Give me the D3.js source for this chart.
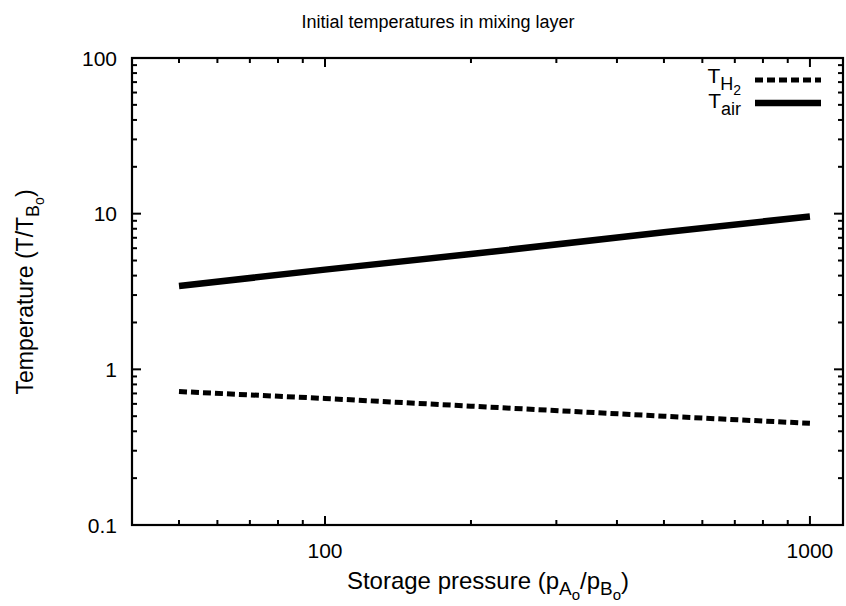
<!DOCTYPE html>
<html>
<head>
<meta charset="utf-8">
<script src="https://cdn.jsdelivr.net/npm/d3@7"></script>
<style>
  html, body { margin: 0; padding: 0; background: #fff; }
  svg { display: block; font-family: "Liberation Sans", Arial, sans-serif; }
</style>
</head>
<body>
<svg id="chart" width="846" height="606"></svg>
<script>
// ---- data ----
const pressure = [50, 100, 200, 500, 1000];
const tH2 = [0.72, 0.65, 0.58, 0.50, 0.45];
const tAir = [3.43, 4.37, 5.5, 7.6, 9.6];
const xDomain = [40, 1170];
const yDomain = [0.1, 100];
const xTickLabels = [100, 1000];
const yTickLabels = [0.1, 1, 10, 100];
const title = "Initial temperatures in mixing layer";

// ---- layout ----
const svg = d3.select("#chart");
const L = 132, R = 843, T = 58, B = 525;
const x = d3.scaleLog().domain(xDomain).range([L, R]);
const y = d3.scaleLog().domain(yDomain).range([B, T]);

const isMajor = v => Math.abs(Math.log10(v) - Math.round(Math.log10(v))) < 1e-9;
const xt = x.ticks().filter(v => v >= xDomain[0] && v <= xDomain[1]);
const yt = y.ticks();

const g = svg.append("g");
// ticks (inward, mirrored)
xt.forEach(v => {
  const len = isMajor(v) ? 9 : 5;
  g.append("line").attr("x1", x(v)).attr("x2", x(v)).attr("y1", B).attr("y2", B - len)
    .attr("stroke", "#000").attr("stroke-width", 2);
  g.append("line").attr("x1", x(v)).attr("x2", x(v)).attr("y1", T).attr("y2", T + len)
    .attr("stroke", "#000").attr("stroke-width", 2);
});
yt.forEach(v => {
  const len = isMajor(v) ? 9 : 5;
  g.append("line").attr("x1", L).attr("x2", L + len).attr("y1", y(v)).attr("y2", y(v))
    .attr("stroke", "#000").attr("stroke-width", 2);
  g.append("line").attr("x1", R).attr("x2", R - len).attr("y1", y(v)).attr("y2", y(v))
    .attr("stroke", "#000").attr("stroke-width", 2);
});
// frame
g.append("rect").attr("x", L).attr("y", T).attr("width", R - L).attr("height", B - T)
  .attr("fill", "none").attr("stroke", "#000").attr("stroke-width", 2.2);

// tick labels
svg.append("g").selectAll("text").data(xTickLabels).join("text")
  .attr("x", d => x(d)).attr("y", B + 33).attr("text-anchor", "middle")
  .attr("font-size", 21).text(d => d);
svg.append("g").selectAll("text").data(yTickLabels).join("text")
  .attr("x", L - 15).attr("y", d => y(d) + 7.5).attr("text-anchor", "end")
  .attr("font-size", 21).text(d => d);

// series
const line = d3.line().x((d, i) => x(pressure[i])).y(d => y(d));
svg.append("path").datum(tAir).attr("d", line).attr("fill", "none")
  .attr("stroke", "#000").attr("stroke-width", 6.5);
svg.append("path").datum(tH2).attr("d", line).attr("fill", "none")
  .attr("stroke", "#000").attr("stroke-width", 5).attr("stroke-dasharray", "8,4");

// title
svg.append("text").attr("x", 438).attr("y", 28).attr("text-anchor", "middle")
  .attr("font-size", 18).text(title);

// x label
const xl = svg.append("text").attr("x", 488).attr("y", 589).attr("text-anchor", "middle")
  .attr("font-size", 24);
xl.append("tspan").text("Storage pressure (p");
xl.append("tspan").attr("font-size", 19).attr("dy", 6).text("A");
xl.append("tspan").attr("font-size", 15).attr("dy", 5).text("o");
xl.append("tspan").attr("dy", -11).text("/p");
xl.append("tspan").attr("font-size", 19).attr("dy", 6).text("B");
xl.append("tspan").attr("font-size", 15).attr("dy", 5).text("o");
xl.append("tspan").attr("dy", -11).text(")");

// y label
const yl = svg.append("text").attr("transform", "translate(33,292) rotate(-90)")
  .attr("text-anchor", "middle").attr("font-size", 23);
yl.append("tspan").text("Temperature (T/T");
yl.append("tspan").attr("font-size", 18).attr("dy", 6).text("B");
yl.append("tspan").attr("font-size", 14).attr("dy", 5).text("o");
yl.append("tspan").attr("dy", -11).text(")");

// legend
const lg = svg.append("g");
const t1 = lg.append("text").attr("x", 741).attr("y", 83).attr("text-anchor", "end").attr("font-size", 21);
t1.append("tspan").text("T");
t1.append("tspan").attr("font-size", 18).attr("dy", 7).text("H");
t1.append("tspan").attr("font-size", 14).attr("dy", 5).text("2");
lg.append("line").attr("x1", 755).attr("x2", 821).attr("y1", 80).attr("y2", 80)
  .attr("stroke", "#000").attr("stroke-width", 5).attr("stroke-dasharray", "8,4");
const t2 = lg.append("text").attr("x", 741).attr("y", 108).attr("text-anchor", "end").attr("font-size", 21);
t2.append("tspan").text("T");
t2.append("tspan").attr("font-size", 18).attr("dy", 7).text("air");
lg.append("line").attr("x1", 755).attr("x2", 821).attr("y1", 103).attr("y2", 103)
  .attr("stroke", "#000").attr("stroke-width", 6.5);
</script>
</body>
</html>
